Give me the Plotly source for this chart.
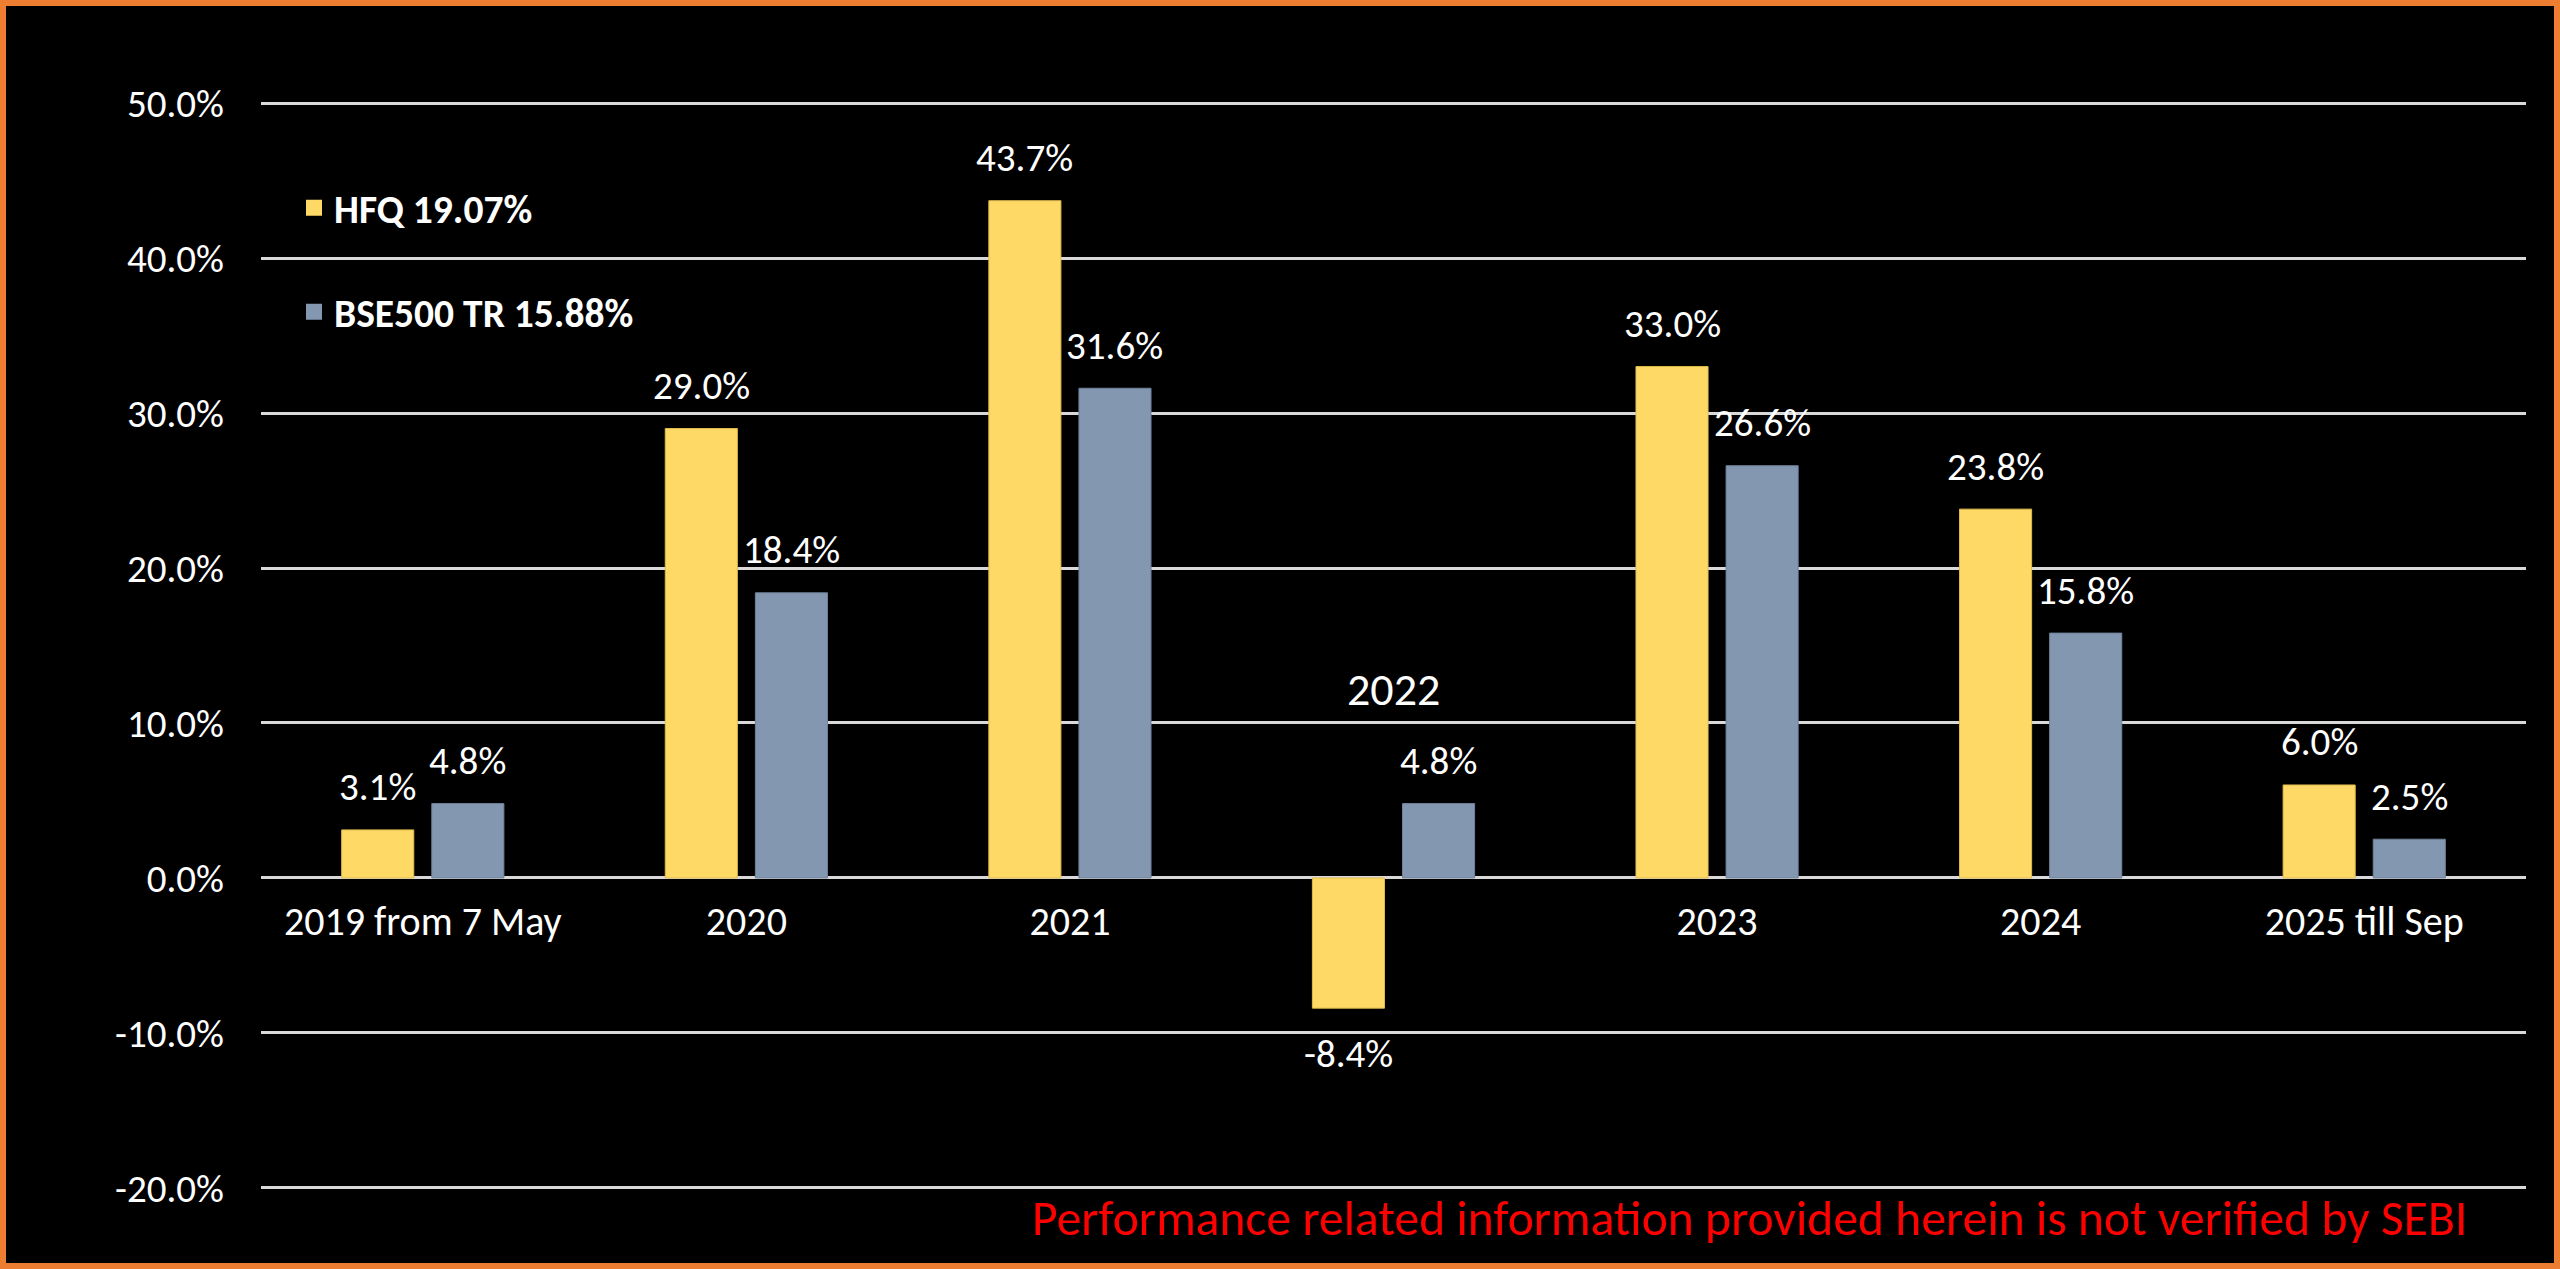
import plotly.graph_objects as go

# ---------------- data ----------------
categories = ["2019 from 7 May", "2020", "2021", "2022", "2023", "2024", "2025 till Sep"]
tick_labels = ["2019 from 7 May", "2020", "2021", "", "2023", "2024", "2025 till Sep"]
hfq_values = [3.1, 29.0, 43.7, -8.4, 33.0, 23.8, 6.0]
bse_values = [4.8, 18.4, 31.6, 4.8, 26.6, 15.8, 2.5]
series_names = ["HFQ 19.07%", "BSE500 TR 15.88%"]
y_tick_values = [-20, -10, 0, 10, 20, 30, 40, 50]
y_tick_labels = ["-20.0%", "-10.0%", "0.0%", "10.0%", "20.0%", "30.0%", "40.0%", "50.0%"]
floating_label = "2022"
floating_label_value = 12.2
footer_text = "Performance related information provided herein is not verified by SEBI"

# ---------------- style ----------------
W, H = 2560, 1269
ML, MR, MT, MB = 261, 34, 100, 78
Y_RANGE = [-20.2, 50.2]
BARGAP = 0.443
BARGROUPGAP = 0.2
COL_HFQ = "#FFD966"
COL_BSE = "#8497B0"
FONT = "Calibri, Carlito, Lato, 'Open Sans', sans-serif"
FS = 39

fig = go.Figure()
fig.add_trace(go.Bar(x=categories, y=hfq_values, name=series_names[0],
                     marker=dict(color=COL_HFQ, line=dict(color="#E0BC4E", width=1)),
                     showlegend=False))
fig.add_trace(go.Bar(x=categories, y=bse_values, name=series_names[1],
                     marker=dict(color=COL_BSE, line=dict(color="#70829A", width=1)),
                     showlegend=False))

# legend proxies
fig.add_trace(go.Scatter(x=[None], y=[None], mode="markers", name=series_names[0],
                         marker=dict(symbol="square", size=29, color=COL_HFQ),
                         legend="legend"))
fig.add_trace(go.Scatter(x=[None], y=[None], mode="markers", name=series_names[1],
                         marker=dict(symbol="square", size=29, color=COL_BSE),
                         legend="legend2"))

# data labels
plot_w = W - ML - MR
cat_w = plot_w / len(categories)
slot = cat_w * (1 - BARGAP) / 2
annotations = []
for vals, sign in ((hfq_values, -1), (bse_values, 1)):
    for i, v in enumerate(vals):
        annotations.append(dict(
            x=i, y=v, xref="x", yref="y", text=f"{v:.1f}%", showarrow=False,
            xshift=sign * slot / 2, yshift=43 if v >= 0 else -45,
            font=dict(family=FONT, size=FS, color="white"),
            xanchor="center", yanchor="middle"))
annotations.append(dict(x=categories.index(floating_label), y=floating_label_value,
                        xref="x", yref="y", text=floating_label, showarrow=False,
                        font=dict(family=FONT, size=46, color="white"),
                        xanchor="center", yanchor="middle"))
annotations.append(dict(x=1 - (2526 - 2469) / plot_w, y=-0.025, xref="paper", yref="paper",
                        text=footer_text, showarrow=False, xanchor="right", yanchor="middle",
                        font=dict(family=FONT, size=49.6, color="#FF0000")))

zero_pos = (0 - Y_RANGE[0]) / (Y_RANGE[1] - Y_RANGE[0])
LEG_FONT = dict(family=FONT, size=39.5, color="white", weight="bold")

fig.update_layout(
    width=W, height=H,
    margin=dict(l=ML, r=MR, t=MT, b=MB, pad=0),
    paper_bgcolor="black", plot_bgcolor="black",
    barmode="group", bargap=BARGAP, bargroupgap=BARGROUPGAP,
    font=dict(family=FONT, size=FS, color="white"),
    annotations=annotations,
    xaxis=dict(type="category", tickmode="array", tickvals=categories, ticktext=tick_labels,
               anchor="free", position=zero_pos, showgrid=False, showline=False,
               zeroline=False, ticks="", ticklabelstandoff=16,
               tickfont=dict(family=FONT, size=40, color="white"),
               range=[-0.5, len(categories) - 0.5]),
    yaxis=dict(range=Y_RANGE, tickmode="array", tickvals=y_tick_values, ticktext=y_tick_labels,
               showgrid=True, gridcolor="#D9D9D9", gridwidth=3, zeroline=True,
               zerolinecolor="#D9D9D9", zerolinewidth=3, showline=False, ticks="",
               ticklabelstandoff=36, tickfont=dict(family=FONT, size=FS, color="white")),
    legend=dict(x=(294 - ML) / plot_w, y=(H - MB - 208) / (H - MT - MB),
                xanchor="left", yanchor="middle", bgcolor="rgba(0,0,0,0)",
                font=LEG_FONT, itemwidth=30),
    legend2=dict(x=(294 - ML) / plot_w, y=(H - MB - 312) / (H - MT - MB),
                 xanchor="left", yanchor="middle", bgcolor="rgba(0,0,0,0)",
                 font=LEG_FONT, itemwidth=30),
    shapes=[dict(type="rect", xref="paper", yref="paper",
                 x0=(3 - ML) / plot_w, x1=(W - 3 - ML) / plot_w,
                 y0=(-(MB - 3)) / (H - MT - MB), y1=1 + (MT - 3) / (H - MT - MB),
                 line=dict(color="#ED7D31", width=6), layer="above")],
)

fig.write_html("out.html", config={"displayModeBar": False},
               post_script="document.body.style.margin='0';document.body.style.overflow='hidden';")
